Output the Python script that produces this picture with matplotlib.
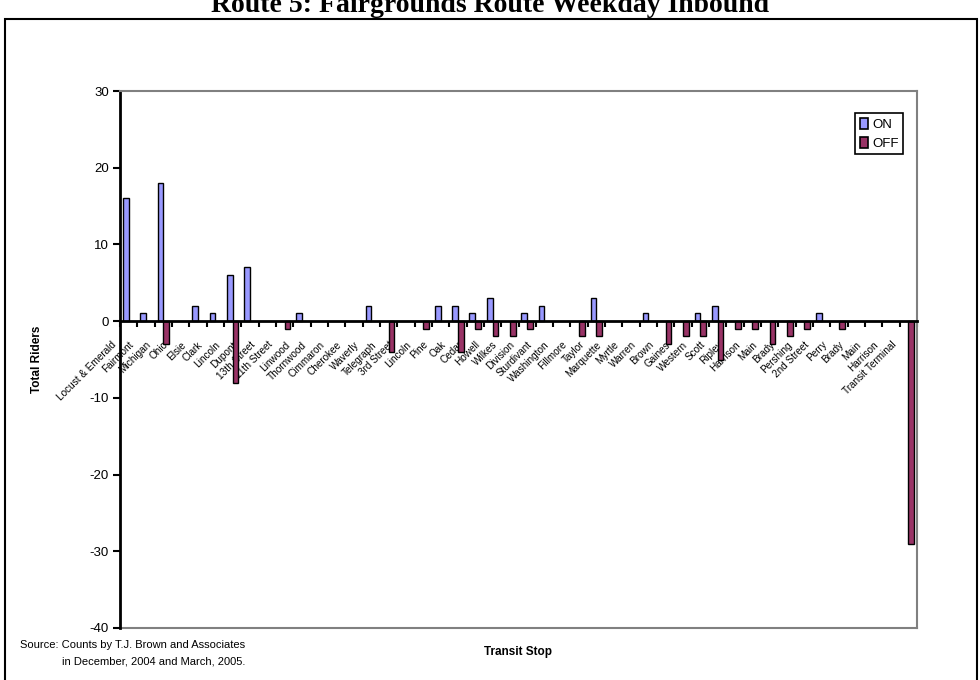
import numpy as np
import matplotlib
matplotlib.use("Agg")
import matplotlib.pyplot as plt
import matplotlib.transforms as mtransforms
from matplotlib.patches import Rectangle, Patch

plt.rcParams['font.family'] = ['Liberation Sans', 'DejaVu Sans']
plt.rcParams['axes.unicode_minus'] = False

# Stops along the route (inbound order)
stops = ["Locust & Emerald", "Fairmont", "Michigan", "Ohio", "Elsie", "Clark",
         "Lincoln", "Dupont", "13th Street", "11th Street", "Linwood", "Thornwood",
         "Cimmaron", "Cherokee", "Waverly", "Telegraph", "3rd Street", "Lincoln",
         "Pine", "Oak", "Cedar", "Howell", "Wilkes", "Division", "Sturdivant",
         "Washington", "Fillmore", "Taylor", "Marquette", "Myrtle", "Warren",
         "Brown", "Gaines", "Western", "Scott", "Ripley", "Harrison", "Main",
         "Brady", "Pershing", "2nd Street", "Perry", "Brady", "Main", "Harrison",
         "Transit Terminal"]

riders_on = [16, 1, 18, 0, 2, 1, 6, 7, 0, 0, 1, 0, 0, 0, 2, 0, 0, 0, 2, 2,
             1, 3, 0, 1, 2, 0, 0, 3, 0, 0, 1, 0, 0, 1, 2, 0, 0, 0, 0, 0,
             1, 0, 0, 0, 0, 0]
riders_off = [0, 0, -3, 0, 0, 0, -8, 0, 0, -1, 0, 0, 0, 0, 0, -4, 0, -1, 0, -4,
              -1, -2, -2, -1, 0, 0, -2, -2, 0, 0, 0, -3, -2, -2, -5, -1, -1, -3, -2, -1,
              0, -1, 0, 0, 0, -29]

yticks = [30, 20, 10, 0, -10, -20, -30, -40]

ON_COLOR = "#9999FF"
OFF_COLOR = "#993366"

W, H = 980, 680
fig = plt.figure(figsize=(W / 100, H / 100), dpi=100)

# outer chart border
fig.patches.append(Rectangle((5 / W, -0.01), 972 / W, 1.01 - 19 / H, transform=fig.transFigure,
                             fill=False, edgecolor="black", linewidth=1.5))

fig.text(0.5, 1 - 12 / H, "Route 5: Fairgrounds Route Weekday Inbound",
         ha="center", va="baseline", fontsize=20, fontweight="bold",
         family=["Liberation Serif", "DejaVu Serif"])

ax = fig.add_axes([120 / W, 1 - 628 / H, 797 / W, 537 / H])

x = np.arange(len(stops))
on = np.array(riders_on, dtype=float)
off = np.array(riders_off, dtype=float)
on[on == 0] = np.nan
off[off == 0] = np.nan

bw = 0.33
ax.bar(x - bw / 2, on, width=bw, color=ON_COLOR, edgecolor="black", linewidth=1, label="ON", zorder=2)
ax.bar(x + bw / 2, off, width=bw, color=OFF_COLOR, edgecolor="black", linewidth=1, label="OFF", zorder=2)

ax.set_xlim(-0.5, len(stops) - 0.5)
ax.set_ylim(-40, 30)
ax.set_yticks(yticks)
ax.tick_params(axis="y", direction="out", length=5, width=1.5, labelsize=9.5, pad=3)

# category axis sits on zero
ax.spines["bottom"].set_position(("data", 0))
ax.spines["bottom"].set_linewidth(2)
ax.spines["bottom"].set_zorder(3)
ax.spines["left"].set_linewidth(2)
for s in ["right", "top"]:
    ax.spines[s].set_color("#808080")
    ax.spines[s].set_linewidth(1.5)
ax.axhline(-40, color="#808080", linewidth=1.5, clip_on=False, zorder=1)

ax.set_xticks(x)
ax.set_xticks(np.arange(len(stops) + 1) - 0.5, minor=True)
ax.tick_params(axis="x", which="major", length=0, pad=0)
ax.tick_params(axis="x", which="minor", direction="out", length=4, width=1.5)
ax.set_xticklabels(stops, rotation=45, ha="right", va="center", rotation_mode="anchor",
                   fontsize=7.2)
offset = mtransforms.ScaledTranslation(-14 / 100, -22 / 100, fig.dpi_scale_trans)
for lbl in ax.get_xticklabels():
    lbl.set_transform(lbl.get_transform() + offset)

ax.set_ylabel("Total Riders", fontsize=8.5, fontweight="bold")
ax.yaxis.set_label_coords(-0.096, 0.5)

fig.text(518 / W, 1 - 652 / H, "Transit Stop", ha="center", va="center",
         fontsize=8.5, fontweight="bold")

fig.text(245 / W, 1 - 645 / H, "Source: Counts by T.J. Brown and Associates",
         ha="right", va="center", fontsize=8)
fig.text(245 / W, 1 - 661 / H, "in December, 2004 and March, 2005.",
         ha="right", va="center", fontsize=8)

handles = [Patch(facecolor=ON_COLOR, edgecolor="black", linewidth=1.2, label="ON"),
           Patch(facecolor=OFF_COLOR, edgecolor="black", linewidth=1.2, label="OFF")]
leg = ax.legend(handles=handles, loc="upper right", bbox_to_anchor=(903 / W, 1 - 113 / H),
                bbox_transform=fig.transFigure, fontsize=9.5, handlelength=0.6,
                handleheight=0.9, handletextpad=0.3, borderpad=0.35, labelspacing=0.45,
                borderaxespad=0, fancybox=False, framealpha=1, edgecolor="black")
leg.get_frame().set_linewidth(1.2)

fig.savefig("out.png", dpi=100)
